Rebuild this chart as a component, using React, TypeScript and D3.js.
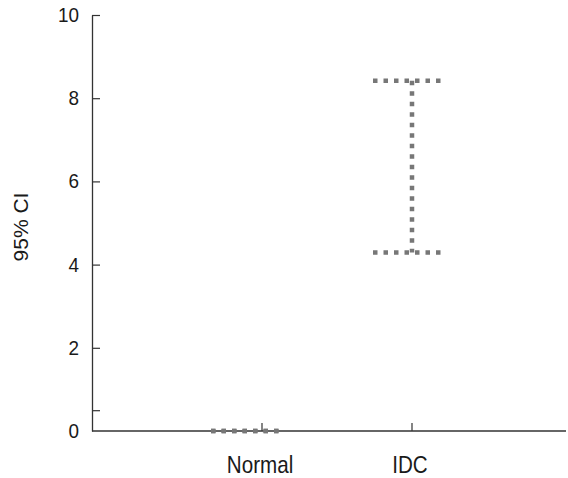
import React, { useRef, useEffect } from "react";
import * as d3 from "d3";

const categories = ["Normal", "IDC"];
const lowerCI = [0, 4.29];
const upperCI = [0, 8.42];
const yTickValues = [0.5, 2, 4, 6, 8, 10];
const yTickLabels = ["", "2", "4", "6", "8", "10"];

const App = () => {
  const chartRef = useRef<HTMLDivElement>(null);

  useEffect(() => {
    const svgWidth = 568;
    const svgHeight = 478;
    const font = "'Liberation Sans', Arial, sans-serif";
    const ink = "#333";
    const textInk = "#1a1a1a";

    d3.select(chartRef.current).selectAll("svg").remove();

    const svg = d3
      .select(chartRef.current)
      .append("svg")
      .attr("width", svgWidth)
      .attr("height", svgHeight)
      .style("display", "block");

    const y = d3.scaleLinear().domain([0, 10]).range([431, 15]);
    const x = d3.scalePoint().domain(categories).range([262, 412]);
    const axisLeft = 92;
    const axisRight = 566;

    // y axis (ticks point inward)
    const yAxis = svg
      .append("g")
      .attr("transform", `translate(${axisLeft},0)`)
      .call(
        d3
          .axisLeft(y)
          .tickValues(yTickValues)
          .tickSizeInner(-8)
          .tickSizeOuter(0)
          .tickFormat(() => "")
      );
    yAxis.select(".domain").attr("stroke", ink).attr("stroke-width", 1.3);
    yAxis.selectAll(".tick line").attr("stroke", ink).attr("stroke-width", 1.2);

    // tick labels, slightly condensed, "0" sits on the baseline
    const labelVals = [0, ...yTickValues.filter((v, i) => yTickLabels[i] !== "")];
    const labelTxt = ["0", ...yTickLabels.filter((t) => t !== "")];
    svg
      .selectAll(".ylab")
      .data(labelVals)
      .enter()
      .append("text")
      .attr("transform", (d) => `translate(${axisLeft - 13},${y(d) + 7}) scale(0.9,1)`)
      .attr("text-anchor", "end")
      .attr("font-family", font)
      .attr("font-size", 21)
      .attr("fill", textInk)
      .text((d, i) => labelTxt[i]);

    // x axis
    svg
      .append("line")
      .attr("x1", axisLeft)
      .attr("x2", axisRight)
      .attr("y1", y(0))
      .attr("y2", y(0))
      .attr("stroke", ink)
      .attr("stroke-width", 1.3);

    svg
      .selectAll(".xtick")
      .data(categories)
      .enter()
      .append("line")
      .attr("x1", (d) => x(d)!)
      .attr("x2", (d) => x(d)!)
      .attr("y1", y(0))
      .attr("y2", y(0) - 8)
      .attr("stroke", ink)
      .attr("stroke-width", 1.2);

    svg
      .selectAll(".xlabel")
      .data(categories)
      .enter()
      .append("text")
      .attr("transform", (d) => `translate(${x(d)! - 2},473) scale(0.86,1)`)
      .attr("text-anchor", "middle")
      .attr("font-family", font)
      .attr("font-size", 24)
      .attr("fill", textInk)
      .text((d) => d);

    // y title
    svg
      .append("text")
      .attr("transform", `translate(28,227) rotate(-90)`)
      .attr("text-anchor", "middle")
      .attr("font-family", font)
      .attr("font-size", 21)
      .attr("fill", textInk)
      .text("95% CI");

    // CI error bars (dotted)
    const half = 36;
    const shift = [-15, -3];
    const dot = { stroke: "#777", width: 4.5, dash: "4.5 6" };
    const bars = svg
      .selectAll(".ci")
      .data(categories)
      .enter()
      .append("g");

    bars
      .append("line")
      .attr("x1", (d) => x(d)!)
      .attr("x2", (d) => x(d)!)
      .attr("y1", (d, i) => y(upperCI[i]))
      .attr("y2", (d, i) => y(lowerCI[i]))
      .attr("stroke", dot.stroke)
      .attr("stroke-width", dot.width)
      .attr("stroke-dasharray", dot.dash);

    [upperCI, lowerCI].forEach((vals) => {
      bars
        .append("line")
        .attr("x1", (d, i) => x(d)! + shift[i] - half)
        .attr("x2", (d, i) => x(d)! + shift[i] + half)
        .attr("y1", (d, i) => y(vals[i]))
        .attr("y2", (d, i) => y(vals[i]))
        .attr("stroke", dot.stroke)
        .attr("stroke-width", dot.width)
        .attr("stroke-dasharray", dot.dash);
    });
  }, []);

  return <div ref={chartRef} style={{ position: "absolute", left: 0, top: 0 }}></div>;
};

export default App;
